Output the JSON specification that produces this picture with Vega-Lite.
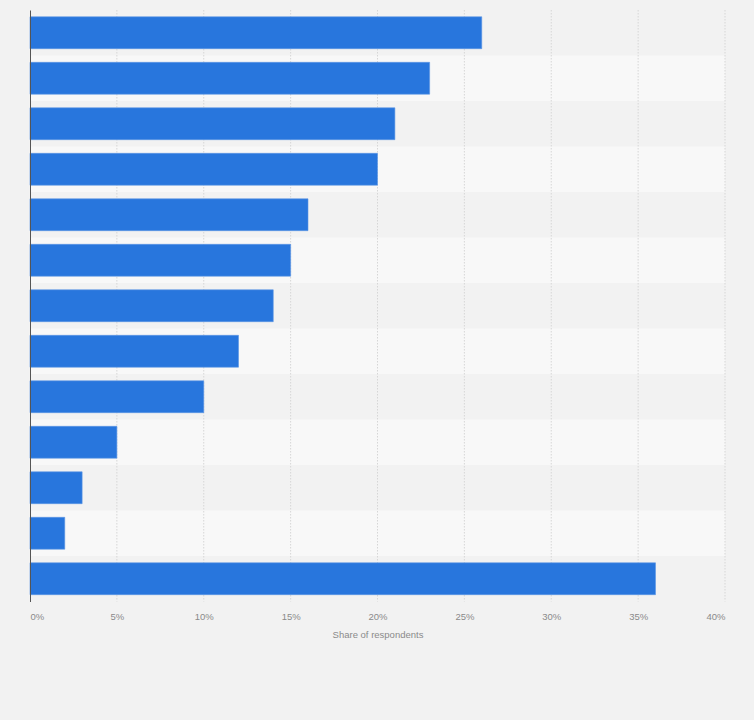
{
  "$schema": "https://vega.github.io/schema/vega-lite/v6.json",
  "width": 695,
  "height": 591.5,
  "autosize": "none",
  "padding": {"left": 30, "top": 10, "right": 29, "bottom": 118.5},
  "background": "#f2f2f2",
  "config": {"view": {"stroke": null}, "font": "Liberation Sans"},
  "datasets": {
    "bars": [
      {"category": "Item 1", "share": 26},
      {"category": "Item 2", "share": 23},
      {"category": "Item 3", "share": 21},
      {"category": "Item 4", "share": 20},
      {"category": "Item 5", "share": 16},
      {"category": "Item 6", "share": 15},
      {"category": "Item 7", "share": 14},
      {"category": "Item 8", "share": 12},
      {"category": "Item 9", "share": 10},
      {"category": "Item 10", "share": 5},
      {"category": "Item 11", "share": 3},
      {"category": "Item 12", "share": 2},
      {"category": "Item 13", "share": 36}
    ],
    "ticks": [
      {"tick": 5}, {"tick": 10}, {"tick": 15}, {"tick": 20},
      {"tick": 25}, {"tick": 30}, {"tick": 35}, {"tick": 40}
    ]
  },
  "layer": [
    {
      "data": {"name": "bars"},
      "transform": [
        {"window": [{"op": "row_number", "as": "rn"}]},
        {"filter": "datum.rn % 2 == 0"}
      ],
      "mark": {"type": "rect", "color": "#f8f8f8"},
      "encoding": {
        "y": {
          "field": "category", "type": "nominal", "sort": null,
          "scale": {
            "domain": ["Item 1","Item 2","Item 3","Item 4","Item 5","Item 6","Item 7","Item 8","Item 9","Item 10","Item 11","Item 12","Item 13"],
            "paddingInner": 0, "paddingOuter": 0
          },
          "axis": {"labels": false, "ticks": false, "title": null, "grid": false, "domain": true, "domainColor": "#555555", "domainWidth": 1, "zindex": 1}
        },
        "x": {"datum": 0, "type": "quantitative"},
        "x2": {"datum": 40}
      }
    },
    {
      "data": {"name": "ticks"},
      "mark": {"type": "rule", "color": "#d6d6d6", "strokeDash": [1.5, 1.5], "strokeWidth": 1},
      "encoding": {
        "x": {"field": "tick", "type": "quantitative"}
      }
    },
    {
      "data": {"name": "bars"},
      "mark": {"type": "bar", "color": "#2876dd", "stroke": "#5a95e4", "strokeWidth": 0.6, "height": {"band": 0.7}},
      "encoding": {
        "y": {"field": "category", "type": "nominal", "sort": null},
        "x": {
          "field": "share", "type": "quantitative",
          "scale": {"domain": [0, 40], "nice": false},
          "axis": {
            "values": [0, 5, 10, 15, 20, 25, 30, 35, 40],
            "labelExpr": "datum.value + '%'",
            "labelFlush": true,
            "labelFontSize": 9.5,
            "labelColor": "#8a8a8a",
            "labelPadding": 10,
            "ticks": false,
            "domain": false,
            "grid": false,
            "title": "Share of respondents",
            "titleFontSize": 9.5,
            "titleFontWeight": "normal",
            "titleColor": "#8a8a8a",
            "titlePadding": 8
          }
        }
      }
    }
  ]
}
